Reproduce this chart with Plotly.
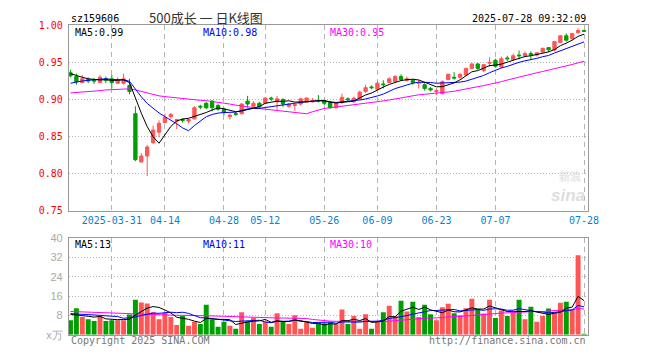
import numpy as np
import pandas as pd
import plotly.graph_objects as go

# ---------------- data ----------------
holidays = ["2025-04-04", "2025-05-01", "2025-05-02", "2025-05-05", "2025-06-02"]
dates = [d.strftime("%Y-%m-%d") for d in pd.bdate_range("2025-03-20", "2025-07-28")
         if d.strftime("%Y-%m-%d") not in holidays]

opens = [0.936, 0.931, 0.923, 0.927, 0.926, 0.923, 0.928, 0.928, 0.922, 0.922,
         0.919, 0.881, 0.816, 0.824, 0.842, 0.856, 0.869, 0.877, 0.871, 0.873,
         0.871, 0.874, 0.891, 0.895, 0.898, 0.892, 0.887, 0.877, 0.881, 0.881,
         0.898, 0.891, 0.895, 0.895, 0.902, 0.897, 0.900, 0.891, 0.892, 0.894,
         0.897, 0.897, 0.899, 0.898, 0.896, 0.889, 0.896, 0.901, 0.897, 0.901,
         0.911, 0.917, 0.914, 0.921, 0.923, 0.924, 0.931, 0.926, 0.926, 0.922,
         0.920, 0.915, 0.911, 0.908, 0.927, 0.930, 0.930, 0.933, 0.942, 0.948,
         0.939, 0.949, 0.953, 0.944, 0.956, 0.954, 0.960, 0.959, 0.962, 0.960,
         0.964, 0.970, 0.967, 0.977, 0.986, 0.982, 0.990, 0.993]
highs = [0.940, 0.935, 0.933, 0.930, 0.929, 0.933, 0.931, 0.933, 0.930, 0.935,
         0.928, 0.891, 0.828, 0.839, 0.865, 0.872, 0.881, 0.882, 0.874, 0.875,
         0.875, 0.891, 0.893, 0.897, 0.899, 0.894, 0.889, 0.881, 0.883, 0.895,
         0.905, 0.898, 0.897, 0.903, 0.904, 0.905, 0.902, 0.895, 0.894, 0.902,
         0.903, 0.902, 0.906, 0.900, 0.898, 0.897, 0.908, 0.903, 0.904, 0.912,
         0.920, 0.919, 0.925, 0.926, 0.930, 0.933, 0.934, 0.931, 0.928, 0.927,
         0.922, 0.917, 0.915, 0.926, 0.935, 0.937, 0.936, 0.943, 0.949, 0.949,
         0.948, 0.957, 0.955, 0.958, 0.959, 0.962, 0.966, 0.965, 0.965, 0.964,
         0.970, 0.970, 0.979, 0.987, 0.989, 0.990, 0.996, 0.994]
lows = [0.930, 0.920, 0.922, 0.922, 0.921, 0.922, 0.922, 0.915, 0.921, 0.920,
        0.907, 0.817, 0.815, 0.797, 0.840, 0.849, 0.868, 0.874, 0.860, 0.869,
        0.868, 0.873, 0.887, 0.887, 0.884, 0.885, 0.879, 0.873, 0.878, 0.880,
        0.889, 0.889, 0.888, 0.894, 0.898, 0.885, 0.890, 0.889, 0.885, 0.892,
        0.896, 0.896, 0.896, 0.892, 0.888, 0.888, 0.894, 0.898, 0.896, 0.900,
        0.909, 0.914, 0.912, 0.915, 0.922, 0.923, 0.925, 0.924, 0.920, 0.915,
        0.912, 0.911, 0.906, 0.907, 0.926, 0.927, 0.928, 0.932, 0.941, 0.940,
        0.937, 0.944, 0.943, 0.942, 0.952, 0.952, 0.954, 0.957, 0.953, 0.958,
        0.963, 0.964, 0.965, 0.976, 0.978, 0.980, 0.989, 0.991]
closes = [0.932, 0.924, 0.928, 0.925, 0.925, 0.930, 0.926, 0.923, 0.926, 0.928,
          0.911, 0.819, 0.824, 0.836, 0.859, 0.868, 0.876, 0.880, 0.873, 0.872,
          0.873, 0.889, 0.890, 0.889, 0.889, 0.887, 0.883, 0.879, 0.880, 0.894,
          0.894, 0.895, 0.890, 0.902, 0.901, 0.901, 0.894, 0.894, 0.893, 0.901,
          0.902, 0.899, 0.898, 0.895, 0.889, 0.896, 0.903, 0.900, 0.902, 0.910,
          0.916, 0.916, 0.922, 0.920, 0.928, 0.931, 0.927, 0.928, 0.923, 0.923,
          0.915, 0.913, 0.912, 0.924, 0.934, 0.929, 0.934, 0.942, 0.948, 0.942,
          0.947, 0.950, 0.945, 0.955, 0.955, 0.959, 0.959, 0.962, 0.960, 0.963,
          0.969, 0.967, 0.978, 0.986, 0.980, 0.989, 0.993, 0.992]
volumes = [6.0, 10.9, 7.3, 6.4, 5.7, 7.6, 5.7, 6.0, 6.0, 6.0,
           8.3, 14.4, 13.3, 12.9, 9.3, 6.4, 9.1, 7.3, 4.0, 7.7,
           3.7, 5.3, 4.4, 12.4, 6.3, 3.3, 5.3, 3.7, 2.4, 9.3,
           5.6, 6.9, 4.4, 5.3, 3.3, 8.9, 5.3, 4.4, 8.0, 2.5,
           5.3, 2.9, 4.7, 4.7, 5.1, 4.3, 10.4, 4.4, 7.7, 2.4,
           8.4, 2.4, 5.6, 9.3, 12.0, 7.6, 14.0, 9.6, 13.6, 7.3,
           12.4, 8.4, 6.0, 11.3, 12.8, 8.9, 8.0, 10.9, 14.9, 10.4,
           8.8, 14.4, 6.9, 10.0, 7.7, 9.3, 14.4, 6.4, 11.6, 5.3,
           7.7, 10.8, 9.1, 13.2, 13.6, 10.4, 32.9, 0.4]

# moving-average values for the days before enough data exists
ma5_head = [0.935, 0.932, 0.930, 0.928]
ma10_head = [0.922, 0.924, 0.925, 0.926, 0.927, 0.928, 0.928, 0.927, 0.927]
ma30_head = [0.909, 0.9095, 0.910, 0.911, 0.9115, 0.912, 0.913, 0.9135, 0.914, 0.915,
             0.9145, 0.913, 0.911, 0.9085, 0.906, 0.905, 0.904, 0.903, 0.902, 0.901,
             0.9005, 0.900, 0.899, 0.8985, 0.8975, 0.897, 0.8955, 0.894, 0.8925]
vma5_head = [8.4, 8.2, 7.9, 7.6]
vma10_head = [8.7, 8.6, 8.6, 8.4, 8.2, 8.0, 7.8, 7.6, 7.5]
vma30_head = [9.6, 9.5, 9.5, 9.4, 9.3, 9.1, 9.0, 8.9, 8.8, 8.7,
              8.6, 8.4, 8.3, 8.3, 8.2, 8.2, 8.1, 8.1, 8.0, 8.0,
              8.0, 8.0, 7.9, 7.8, 7.8, 7.7, 7.6, 7.5, 7.4]

tick_dates = ["2025-03-31", "2025-04-14", "2025-04-28", "2025-05-12", "2025-05-26",
              "2025-06-09", "2025-06-23", "2025-07-07", "2025-07-28"]
tick_labels = ["2025-03-31", "04-14", "04-28", "05-12", "05-26",
               "06-09", "06-23", "07-07", "07-28"]
price_ticks = [0.75, 0.80, 0.85, 0.90, 0.95, 1.00]
vol_ticks = [0, 8, 16, 24, 32, 40]
vol_ticktext = ["x万", "8", "16", "24", "32", "40"]

title_code = "sz159606"
title_name = "500成长 一 日K线图"
timestamp = "2025-07-28 09:32:09"
price_ma_text = ["MA5:0.99", "MA10:0.98", "MA30:0.95"]
vol_ma_text = ["MA5:13", "MA10:11", "MA30:10"]


def moving_avg(vals, n, head):
    out = list(head)
    for i in range(len(head), len(vals)):
        out.append(float(np.mean(vals[i - n + 1:i + 1])))
    return out


ma5 = moving_avg(closes, 5, ma5_head)
ma10 = moving_avg(closes, 10, ma10_head)
ma30 = moving_avg(closes, 30, ma30_head)
vma5 = moving_avg(volumes, 5, vma5_head)
vma10 = moving_avg(volumes, 10, vma10_head)
vma30 = moving_avg(volumes, 30, vma30_head)

# ---------------- styling ----------------
W, H = 660, 360
RED = "#ff5555"
GREEN = "#009f00"
MONO = "DejaVu Sans Mono"
GRID = "#b4b4b4"
FRAME = "#999999"

x_left, x_right = 70, 597.5


def px(x):
    return x / W


def py(y):
    return 1 - y / H


vol_colors = [RED if c >= o else GREEN for o, c in zip(opens, closes)]

fig = go.Figure()
fig.add_trace(go.Candlestick(
    x=dates, open=opens, high=highs, low=lows, close=closes,
    increasing=dict(line=dict(color=RED, width=1), fillcolor=RED),
    decreasing=dict(line=dict(color=GREEN, width=1), fillcolor=GREEN),
    whiskerwidth=0, xaxis="x", yaxis="y", showlegend=False, hoverinfo="skip"))
for vals, col in [(ma30, "#ff00ff"), (ma10, "#0000ff"), (ma5, "#000000")]:
    fig.add_trace(go.Scatter(x=dates, y=vals, mode="lines", line=dict(color=col, width=1),
                             xaxis="x", yaxis="y", showlegend=False, hoverinfo="skip"))

fig.add_trace(go.Bar(x=dates, y=volumes, marker=dict(color=vol_colors, line=dict(width=0)),
                     width=0.84, xaxis="x2", yaxis="y2", showlegend=False, hoverinfo="skip"))
for vals, col in [(vma30, "#ff00ff"), (vma10, "#0000ff"), (vma5, "#000000")]:
    fig.add_trace(go.Scatter(x=dates, y=vals, mode="lines", line=dict(color=col, width=1),
                             xaxis="x2", yaxis="y2", showlegend=False, hoverinfo="skip"))

xrange = [-0.28, len(dates) - 1 + 0.6]
common_x = dict(type="category", range=xrange, tickmode="array", tickvals=tick_dates,
                showgrid=True, gridcolor=GRID, griddash="5px,4px", gridwidth=1,
                showline=True, linecolor=FRAME, linewidth=1, mirror=True,
                zeroline=False, ticks="", fixedrange=True)

fig.update_layout(
    width=W, height=H, margin=dict(l=0, r=0, t=0, b=0),
    paper_bgcolor="white", plot_bgcolor="white",
    xaxis=dict(domain=[px(x_left), px(x_right)], anchor="y", ticktext=tick_labels,
               tickfont=dict(family=MONO, size=10, color="#0a7fd0"),
               rangeslider=dict(visible=False), **common_x),
    yaxis=dict(domain=[py(212), py(20)], range=[0.75, 1.00], tickmode="array",
               tickvals=price_ticks, tickformat=".2f",
               tickfont=dict(family=MONO, size=10, color="#ff0000"),
               showgrid=True, gridcolor=GRID, griddash="1px,2px", gridwidth=1,
               showline=True, linecolor=FRAME, linewidth=1, mirror=True,
               zeroline=False, ticks="", ticklabelstandoff=3, fixedrange=True),
    xaxis2=dict(domain=[px(x_left), px(x_right)], anchor="y2", showticklabels=False,
                **common_x),
    yaxis2=dict(domain=[py(340), py(240)], range=[0, 40], tickmode="array",
                tickvals=vol_ticks, ticktext=vol_ticktext,
                tickfont=dict(family="Liberation Sans", size=11, color="#aaaaaa"),
                showgrid=True, gridcolor=GRID, griddash="1px,2px", gridwidth=1,
                showline=True, linecolor=FRAME, linewidth=1, mirror=True,
                zeroline=False, ticks="", ticklabelstandoff=3, fixedrange=True),
    bargap=0.1,
    boxgap=0.2,
    hovermode=False,
)

ann = []


def text(x, y, s, color="#000", size=10, family=MONO, xanchor="left", **kw):
    ann.append(dict(x=px(x), y=py(y), xref="paper", yref="paper", text=s, showarrow=False,
                    xanchor=xanchor, yanchor="middle",
                    font=dict(family=family, size=size, color=color), **kw))


text(70, 13, title_code)
text(209, 12, title_name, color="#333333", size=13, family="Noto Sans CJK SC", xanchor="center")
text(597.5, 13, timestamp, xanchor="right")
ma_cols = ["#000000", "#0000ff", "#ff00ff"]
for xx, s, c in zip([74, 204, 334], price_ma_text, ma_cols):
    text(xx, 27, s, color=c)
for xx, s, c in zip([74, 204, 334], vol_ma_text, ma_cols):
    text(xx, 247, s, color=c)
text(70, 346, "Copyright 2025 SINA.COM", color="#777777")
text(597.5, 346, "http://finance.sina.com.cn", color="#777777", xanchor="right")
text(578, 196, "<b><i>sina</i></b>", color="#dedede", size=17,
     family="Liberation Sans", xanchor="center")
text(580, 176, "<b>新浪</b>", color="#e6e6e6", size=11,
     family="Noto Sans CJK SC", xanchor="center")
fig.update_layout(annotations=ann)

fig.write_html("out.html", config={"displayModeBar": False, "staticPlot": True})
